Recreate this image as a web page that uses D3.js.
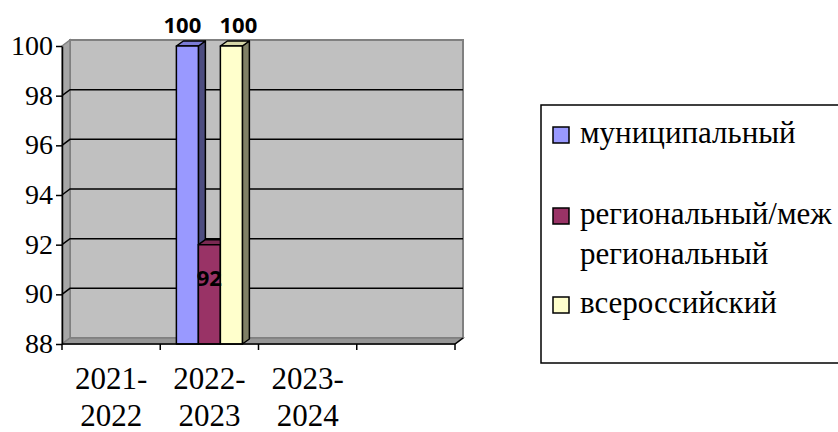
<!DOCTYPE html>
<html>
<head>
<meta charset="utf-8">
<script src="https://d3js.org/d3.v7.min.js"></script>
</head>
<body style="margin:0">
<script>
// data
var categories = ["2021-2022", "2022-2023", "2023-2024", ""];
var seriesNames = ["муниципальный", "региональный/меж региональный", "всероссийский"];
var municipal = [null, 100, null, null];
var regional  = [null, 92, null, null];
var allRussia = [null, 100, null, null];
var yTicks = [88, 90, 92, 94, 96, 98, 100];

var series = [municipal, regional, allRussia];
var fronts = ["#9999FF", "#993366", "#FFFFCC"];
var tops   = ["#7C7CD6", "#7A2952", "#D6D6A8"];
var sides  = ["#4D4D80", "#4D1A33", "#808066"];
var fams = ["serif", "Open Sans"];

var chartW = 838, chartH = 432;
var pLeft = 62, pRight = 455, pTop = 46, pBottom = 344;
var wdx = 8, wdy = 6;   // wall depth
var bdx = 7, bdy = 5;   // bar depth

var svg = d3.select("body").append("svg")
    .attr("width", chartW)
    .attr("height", chartH);

var xs = d3.scaleBand().domain(categories).range([pLeft, pRight]);
var ys = d3.scaleLinear().domain([88, 100]).range([pBottom, pTop]);
var barW = 22;

function poly(pts) { return pts.map(function(p){ return p.join(","); }).join(" "); }
function serifText(px, py, size, s, anchor) {
    return svg.append("text").attr("x", px).attr("y", py)
        .attr("font-size", size)
        .attr("text-anchor", anchor || "start")
        .style("font-family", fams[0])
        .text(s);
}

// walls
svg.append("polygon")
    .attr("points", poly([[pLeft + wdx, pTop - wdy], [pRight + wdx, pTop - wdy], [pRight + wdx, pBottom - wdy], [pLeft + wdx, pBottom - wdy]]))
    .attr("fill", "#C0C0C0").attr("stroke", "#808080").attr("stroke-width", 2);
svg.append("polygon")
    .attr("points", poly([[pLeft, pTop], [pLeft + wdx, pTop - wdy], [pLeft + wdx, pBottom - wdy], [pLeft, pBottom]]))
    .attr("fill", "#A6A6A6").attr("stroke", "#808080").attr("stroke-width", 1.5);
svg.append("polygon")
    .attr("points", poly([[pLeft, pBottom], [pLeft + wdx, pBottom - wdy], [pRight + wdx, pBottom - wdy], [pRight, pBottom]]))
    .attr("fill", "#969696").attr("stroke", "#808080").attr("stroke-width", 1.5);

// gridlines
var grid = yTicks.filter(function(d){ return d > 88 && d < 100; });
svg.selectAll(".grid")
    .data(grid)
    .enter().append("polyline")
    .attr("points", function(d) {
        return poly([[pLeft, ys(d)], [pLeft + wdx, ys(d) - wdy], [pRight + wdx, ys(d) - wdy]]);
    })
    .attr("fill", "none").attr("stroke", "#000").attr("stroke-width", 1.5);

// bars
var groupW = barW * series.length;
series.forEach(function(vals, si) {
    vals.forEach(function(v, ci) {
        if (v == null) return;
        var x0 = xs(categories[ci]) + (xs.bandwidth() - groupW) / 2 + si * barW;
        var x1 = x0 + barW;
        var yt = ys(v), yb = ys(88);
        var g = svg.append("g").attr("stroke", "#000").attr("stroke-width", 1.5).attr("stroke-linejoin", "round");
        g.append("polygon").attr("points", poly([[x1, yt], [x1 + bdx, yt - bdy], [x1 + bdx, yb - bdy], [x1, yb]])).attr("fill", sides[si]);
        g.append("polygon").attr("points", poly([[x0, yt], [x0 + bdx, yt - bdy], [x1 + bdx, yt - bdy], [x1, yt]])).attr("fill", tops[si]);
        g.append("rect").attr("x", x0).attr("y", yt).attr("width", barW).attr("height", yb - yt).attr("fill", fronts[si]);
    });
});

// data labels
series.forEach(function(vals, si) {
    vals.forEach(function(v, ci) {
        if (v == null) return;
        var cx = xs(categories[ci]) + (xs.bandwidth() - groupW) / 2 + si * barW + barW / 2;
        var ly = v === 100 ? ys(v) - 13 : ys(v) + 41;
        if (si === 0) cx -= 5;
        if (si === 2) cx += 7;
        svg.append("text")
            .attr("x", cx).attr("y", ly)
            .attr("text-anchor", "middle")
            .attr("font-size", "22px")
            .attr("font-weight", "bold")
            .style("font-family", fams[1])
            .text(v);
    });
});

// y axis: lines from d3, labels as plain texts
var yAxis = svg.append("g")
    .attr("transform", "translate(" + pLeft + ",0)")
    .call(d3.axisLeft(ys).tickValues(yTicks).tickSize(6).tickSizeOuter(0).tickFormat(""));
yAxis.selectAll("line, path").attr("stroke", "#000").attr("stroke-width", 1.5);
yTicks.forEach(function(t) {
    serifText(pLeft - 9, ys(t) + 9, "28px", String(t), "end");
});

// x axis
svg.append("line").attr("x1", pLeft).attr("x2", pRight).attr("y1", pBottom).attr("y2", pBottom)
    .attr("stroke", "#000").attr("stroke-width", 1.5);
svg.append("line").attr("x1", pRight).attr("x2", pRight + wdx).attr("y1", pBottom).attr("y2", pBottom - wdy)
    .attr("stroke", "#000").attr("stroke-width", 1.5);
var bounds = categories.map(function(c){ return xs(c); }).concat([xs(categories[categories.length - 1]) + xs.bandwidth()]);
svg.selectAll(".tk").data(bounds).enter().append("line")
    .attr("x1", function(d){ return d; }).attr("x2", function(d){ return d; })
    .attr("y1", pBottom).attr("y2", pBottom + 6)
    .attr("stroke", "#000").attr("stroke-width", 1.5);
categories.forEach(function(c) {
    var parts = c.split("-");
    if (parts.length < 2) return;
    var cx = xs(c) + xs.bandwidth() / 2;
    serifText(cx, 389, "31px", parts[0] + "-", "middle");
    serifText(cx, 426, "31px", parts[1], "middle");
});

// legend
svg.append("rect").attr("x", 541).attr("y", 105).attr("width", 320).attr("height", 258)
    .attr("fill", "#fff").attr("stroke", "#000").attr("stroke-width", 1.5);
var legendLines = [["муниципальный"], ["региональный/меж", "региональный"], ["всероссийский"]];
var legendY = [143, 224, 313];
legendLines.forEach(function(lines, i) {
    svg.append("rect").attr("x", 553).attr("y", legendY[i] - 16).attr("width", 16).attr("height", 16)
        .attr("fill", fronts[i]).attr("stroke", "#000").attr("stroke-width", 1.5);
    lines.forEach(function(s, k) {
        serifText(580, legendY[i] + k * 40, "31px", s);
    });
});
</script>
</body>
</html>
